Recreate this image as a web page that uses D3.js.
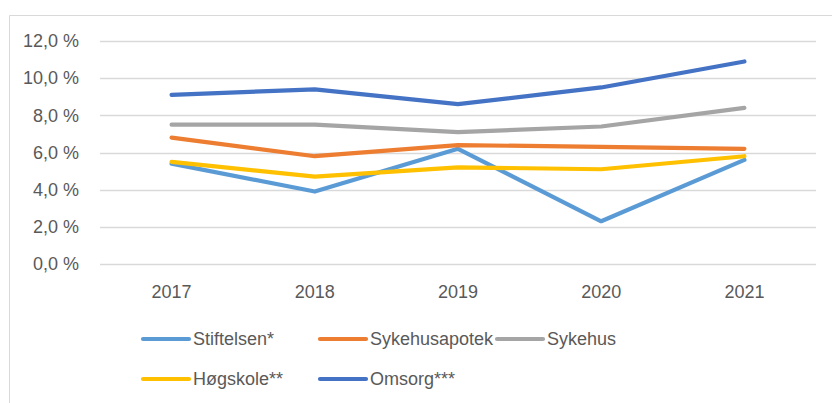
<!DOCTYPE html>
<meta charset="utf-8">
<style>
body { margin: 0; background: #fff; }
text { font-family: "Liberation Sans", Arial, sans-serif; fill: #595959; }
</style>
<body>
<svg width="832" height="403"></svg>
<script src="https://cdn.jsdelivr.net/npm/d3@7"></script>
<script>

var years = ["2017", "2018", "2019", "2020", "2021"];
var yTicks = [0, 2, 4, 6, 8, 10, 12];

var stiftelsen    = [5.4, 3.9, 6.2, 2.3, 5.6];
var sykehusapotek = [6.8, 5.8, 6.4, 6.3, 6.2];
var sykehus       = [7.5, 7.5, 7.1, 7.4, 8.4];
var hogskole      = [5.5, 4.7, 5.2, 5.1, 5.8];
var omsorg        = [9.1, 9.4, 8.6, 9.5, 10.9];

var seriesNames  = ["Stiftelsen*", "Sykehusapotek", "Sykehus", "Høgskole**", "Omsorg***"];
var seriesValues = [stiftelsen, sykehusapotek, sykehus, hogskole, omsorg];
var seriesColors = ["#5b9bd5", "#ed7d31", "#a5a5a5", "#ffc000", "#4472c4"];

var svg = d3.select("svg");

// chart area border (top + left only visible)
svg.append("path")
	.attr("d", "M9.5,403 V15.5 H832")
	.attr("fill", "none")
	.attr("stroke", "#d9d9d9")
	.attr("stroke-width", 1);

var x = d3.scaleBand()
	.domain(years)
	.range([100, 816]);

var y = d3.scaleLinear()
	.domain([0, 12])
	.range([264, 41]);

// gridlines
svg.append("g")
	.selectAll("line")
	.data(yTicks)
	.enter().append("line")
	.attr("x1", 100)
	.attr("x2", 816)
	.attr("y1", function(d){ return Math.round(y(d)) + 0.5; })
	.attr("y2", function(d){ return Math.round(y(d)) + 0.5; })
	.attr("stroke", "#d9d9d9")
	.attr("stroke-width", 1.3);

// y labels
svg.append("g")
	.selectAll("text")
	.data(yTicks)
	.enter().append("text")
	.attr("x", 79)
	.attr("y", function(d){ return y(d); })
	.attr("dy", "0.35em")
	.attr("text-anchor", "end")
	.style("font-size", "18px")
	.text(function(d){ return d.toFixed(1).replace(".", ",") + " %"; });

// x labels
svg.append("g")
	.selectAll("text")
	.data(years)
	.enter().append("text")
	.attr("x", function(d){ return x(d) + x.bandwidth() / 2; })
	.attr("y", 298)
	.attr("text-anchor", "middle")
	.style("font-size", "18px")
	.text(function(d){ return d; });

var line = d3.line()
	.x(function(d, i){ return x(years[i]) + x.bandwidth() / 2; })
	.y(function(d){ return y(d); });

svg.append("g")
	.selectAll("path")
	.data(seriesValues)
	.enter().append("path")
	.attr("d", line)
	.attr("fill", "none")
	.attr("stroke", function(d, i){ return seriesColors[i]; })
	.attr("stroke-width", 4.2)
	.attr("stroke-linecap", "round")
	.attr("stroke-linejoin", "round");

// legend
var legendPos = [
	{x: 143, y: 339}, {x: 320, y: 339}, {x: 497, y: 339},
	{x: 143, y: 379}, {x: 320, y: 379}
];

var legend = svg.append("g")
	.selectAll("g")
	.data(seriesNames)
	.enter().append("g")
	.attr("transform", function(d, i){ return "translate(" + legendPos[i].x + "," + legendPos[i].y + ")"; });

legend.append("line")
	.attr("x1", 0)
	.attr("x2", 46)
	.attr("stroke", function(d, i){ return seriesColors[i]; })
	.attr("stroke-width", 4.2)
	.attr("stroke-linecap", "round");

legend.append("text")
	.attr("x", 50)
	.attr("dy", "0.35em")
	.style("font-size", "18px")
	.text(function(d){ return d; });

</script>
</body>
</html>
